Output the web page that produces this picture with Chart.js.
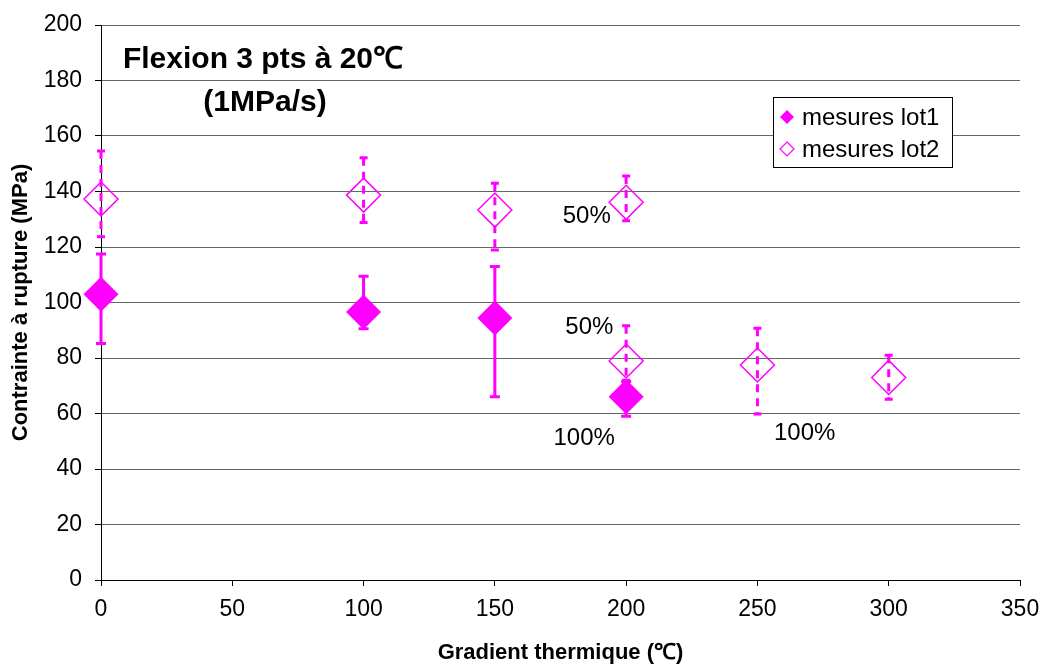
<!DOCTYPE html>
<html lang="fr">
<head>
<meta charset="UTF-8">
<title>Flexion 3 pts</title>
<script src="https://cdn.jsdelivr.net/npm/chart.js"></script>
<style>
  body { margin: 0; background: #fff; }
  #wrap { width: 1042px; height: 666px; }
</style>
</head>
<body>
<div id="wrap"><canvas id="chart" width="1042" height="666"></canvas></div>
<script>
// lot1 (filled diamonds)
const lot1X = [0, 100, 150, 200];
const lot1Y = [103, 96.6, 94.4, 66];
const lot1Lo = [85.2, 90.5, 66, 59];
const lot1Hi = [117.5, 109.5, 113, 71.5];

// lot2 (open diamonds)
const lot2X = [0, 100, 150, 200, 200, 250, 300];
const lot2Y = [137.3, 138.7, 133.3, 136.1, 78.9, 77.5, 73];
const lot2Lo = [123.7, 128.8, 118.9, 129.5, 72, 59.8, 65.1];
const lot2Hi = [154.6, 152.2, 143, 145.6, 91.6, 90.7, 81];

// text notes in data coordinates
const noteX = [185, 186, 184, 268];
const noteY = [131, 91, 51, 53];
const noteText = ['50%', '50%', '100%', '100%'];

const xTicks = [0, 50, 100, 150, 200, 250, 300, 350];
const yTicks = [0, 20, 40, 60, 80, 100, 120, 140, 160, 180, 200];

const MAG = '#ff00ff';
const FONT = '"Liberation Sans", Arial, sans-serif';

function pts(xs, ys) {
    return xs.map((x, i) => ({ x: x, y: ys[i] }));
}

const errorBars = {
    id: 'errorBars',
    beforeDatasetsDraw(chart) {
        const { ctx, scales: { x, y } } = chart;
        const sets = [
            { xs: lot2X, lo: lot2Lo, hi: lot2Hi, dash: [8, 6], cap: 4 },
            { xs: lot1X, lo: lot1Lo, hi: lot1Hi, dash: [], cap: 5 }
        ];
        ctx.save();
        ctx.strokeStyle = MAG;
        ctx.lineWidth = 3;
        sets.forEach(s => {
            s.xs.forEach((xv, i) => {
                const px = x.getPixelForValue(xv);
                const top = y.getPixelForValue(s.hi[i]);
                const bot = y.getPixelForValue(s.lo[i]);
                ctx.setLineDash(s.dash);
                ctx.beginPath();
                ctx.moveTo(px, top);
                ctx.lineTo(px, bot);
                ctx.stroke();
                ctx.setLineDash([]);
                ctx.beginPath();
                ctx.moveTo(px - s.cap, top);
                ctx.lineTo(px + s.cap, top);
                ctx.moveTo(px - s.cap, bot);
                ctx.lineTo(px + s.cap, bot);
                ctx.stroke();
            });
        });
        ctx.restore();
    }
};

const decorations = {
    id: 'decorations',
    afterDraw(chart) {
        const { ctx, scales: { x, y } } = chart;
        ctx.save();
        // title
        ctx.fillStyle = '#000';
        ctx.textAlign = 'center';
        ctx.textBaseline = 'alphabetic';
        ctx.font = 'bold 30px ' + FONT;
        ctx.fillText('Flexion 3 pts à 20℃', 263, 68);
        ctx.fillText('(1MPa/s)', 265, 111);

        // notes
        ctx.font = '24px ' + FONT;
        ctx.textBaseline = 'middle';
        noteText.forEach((t, i) => {
            ctx.fillText(t, x.getPixelForValue(noteX[i]), y.getPixelForValue(noteY[i]));
        });

        // legend
        const bx = 773.5, by = 97.5, bw = 179, bh = 70;
        ctx.fillStyle = '#fff';
        ctx.fillRect(bx, by, bw, bh);
        ctx.strokeStyle = '#000';
        ctx.lineWidth = 1;
        ctx.strokeRect(bx, by, bw, bh);
        chart.data.datasets.forEach((ds, i) => {
            const cy = 117 + i * 32;
            const cx = 787;
            const r = 7;
            ctx.beginPath();
            ctx.moveTo(cx, cy - r);
            ctx.lineTo(cx + r, cy);
            ctx.lineTo(cx, cy + r);
            ctx.lineTo(cx - r, cy);
            ctx.closePath();
            if (i === 0) {
                ctx.fillStyle = MAG;
                ctx.fill();
            } else {
                ctx.strokeStyle = MAG;
                ctx.lineWidth = 1.2;
                ctx.stroke();
            }
            ctx.fillStyle = '#000';
            ctx.textAlign = 'left';
            ctx.textBaseline = 'middle';
            ctx.font = '24px ' + FONT;
            ctx.fillText(ds.label, 802, cy + 1);
        });
        ctx.restore();
    }
};

new Chart(document.getElementById('chart').getContext('2d'), {
    type: 'scatter',
    data: {
        datasets: [
            {
                label: 'mesures lot1',
                data: pts(lot1X, lot1Y),
                pointStyle: 'rectRot',
                pointRadius: 17.5,
                backgroundColor: MAG,
                borderColor: MAG,
                borderWidth: 0,
                clip: false
            },
            {
                label: 'mesures lot2',
                data: pts(lot2X, lot2Y),
                pointStyle: 'rectRot',
                pointRadius: 17,
                backgroundColor: 'rgba(0,0,0,0)',
                borderColor: MAG,
                borderWidth: 1.5,
                clip: false
            }
        ]
    },
    options: {
        responsive: false,
        animation: false,
        events: [],
        layout: { padding: { top: 25, right: 22, left: 0, bottom: 0 } },
        plugins: {
            legend: { display: false },
            tooltip: { enabled: false }
        },
        scales: {
            x: {
                type: 'linear',
                min: 0,
                max: 350,
                afterBuildTicks: s => { s.ticks = xTicks.map(v => ({ value: v })); },
                afterFit: s => { s.height = 86; s.paddingLeft = 0; s.paddingRight = 0; },
                ticks: { color: '#000', padding: 10, maxRotation: 0, font: { family: FONT, size: 23 } },
                grid: { drawOnChartArea: false, drawTicks: true, tickLength: 6, tickColor: '#000', color: '#000' },
                border: { display: true, color: '#000', width: 1 },
                title: {
                    display: true,
                    text: 'Gradient thermique (℃)',
                    color: '#000',
                    padding: { top: 0, bottom: 0 },
                    font: { family: FONT, size: 22, weight: 'bold' }
                }
            },
            y: {
                min: 0,
                max: 200,
                afterBuildTicks: s => { s.ticks = yTicks.map(v => ({ value: v })); },
                afterFit: s => { s.width = 101; s.paddingTop = 0; s.paddingBottom = 0; },
                ticks: { color: '#000', padding: 13, font: { family: FONT, size: 23 } },
                grid: { color: '#666', tickLength: 6, tickColor: '#000' },
                border: { display: true, color: '#000', width: 1 },
                title: {
                    display: true,
                    text: 'Contrainte à rupture (MPa)',
                    color: '#000',
                    padding: { top: 8, bottom: 0 },
                    font: { family: FONT, size: 22, weight: 'bold' }
                }
            }
        }
    },
    plugins: [errorBars, decorations]
});
</script>
</body>
</html>
